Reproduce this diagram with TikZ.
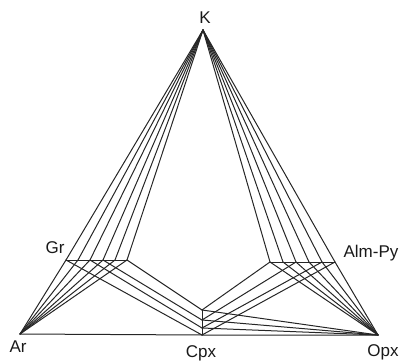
\documentclass[tikz,border=0pt]{standalone}
\usepackage{fontspec}
\setmainfont{Liberation Sans}
\begin{document}
\begin{tikzpicture}[x=1pt,y=-1pt,
  tie/.style={line width=1pt, draw=black!85, line cap=round},
  lbl/.style={font=\fontsize{17}{19}\selectfont, text=black!90, inner sep=0pt}]
\useasboundingbox (0,0) rectangle (406,363);
% apex and corners
\coordinate (K) at (203,30);
\coordinate (Ar) at (20,334);
\coordinate (Opx) at (378,335);
% Cpx segment
\coordinate (C0) at (202,310);
\coordinate (C1) at (202,320);
\coordinate (C2) at (202,328);
\coordinate (C3) at (202,335);
% Gr segment
\foreach \i/\x in {0/66,1/78,2/90,3/103,4/115,5/127}{\coordinate (G\i) at (\x,260);}
% Alm-Py segment
\foreach \i/\x in {0/270,1/283,2/296,3/309,4/322,5/335}{\coordinate (A\i) at (\x,262);}
% labels
\node[lbl] (lK) at (205,18) {K};
\node[lbl] (lGr) at (55,248) {Gr};
\node[lbl] (lAlm) at (371,253) {Alm-Py};
\node[lbl] (lAr) at (18,347) {Ar};
\node[lbl] (lCpx) at (201,353) {Cpx};
\node[lbl] (lOpx) at (383,352) {Opx};
% base line and segments
\draw[tie] (Ar) -- (C3) -- (Opx);
\draw[tie] (C0) -- (C3);
\draw[tie] (G0) -- (G5);
\draw[tie] (A0) -- (A5);
% fans from K
\foreach \i in {0,...,5}{\draw[tie] (K) -- (G\i); \draw[tie] (K) -- (A\i);}
% Gr to Ar, Alm-Py to Opx
\foreach \i in {0,...,5}{\draw[tie] (G\i) -- (Ar); \draw[tie] (A\i) -- (Opx);}
% Gr to Cpx
\draw[tie] (G0) -- (C3);
\draw[tie] (G2) -- (C2);
\draw[tie] (G3) -- (C1);
\draw[tie] (G5) -- (C0);
% Alm-Py to Cpx
\draw[tie] (A0) -- (C0);
\draw[tie] (A2) -- (C1);
\draw[tie] (A4) -- (C2);
\draw[tie] (A5) -- (C3);
% Cpx to Opx
\draw[tie] (C0) -- (Opx);
\draw[tie] (C1) -- (Opx);
\draw[tie] (C2) -- (Opx);
\end{tikzpicture}
\end{document}
